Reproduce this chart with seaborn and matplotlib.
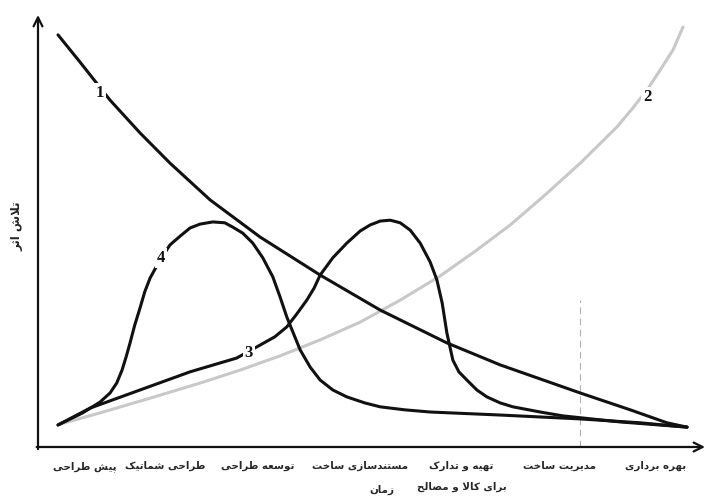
import numpy as np
import pandas as pd
import matplotlib
matplotlib.use("Agg")
import matplotlib.pyplot as plt
import seaborn as sns

# ---------------- data ----------------
curve1_x = [3.0, 6.3, 10.8, 15.3, 19.8, 25.8, 33.3, 42.3, 51.3, 61.3, 69.3, 81.3, 88.8, 94.3, 97.3]
curve1_y = [95.4, 89.1, 80.3, 72.7, 65.7, 57.2, 48.6, 39.8, 31.7, 24.1, 19.0, 12.5, 8.6, 5.6, 4.6]

curve2_x = [3.3, 9.3, 16.8, 24.3, 30.3, 36.3, 42.3, 48.3, 54.3, 60.3, 65.8, 70.8, 75.7, 81.3,
            86.8, 89.2, 91.5, 93.3, 95.2, 96.7]
curve2_y = [5.3, 7.9, 11.3, 14.8, 17.8, 21.1, 24.8, 28.9, 34.0, 39.6, 45.6, 51.4, 57.9, 65.7,
            74.1, 78.5, 83.1, 87.3, 91.9, 97.2]

curve3_x = [3.0, 7.8, 15.3, 22.8, 29.8, 33.3, 35.5, 37.3, 38.8, 40.3, 41.4, 42.3, 44.2, 46.3,
            48.3, 49.8, 51.3, 52.8, 54.3, 55.8, 57.3, 58.8, 59.8, 60.6, 61.3, 61.8, 62.2, 63.1,
            64.3, 65.8, 67.3, 69.3, 71.2, 75.3, 78.7, 87.3, 97.3]
curve3_y = [5.1, 9.0, 13.2, 17.4, 20.6, 23.6, 25.5, 27.8, 30.8, 34.0, 36.8, 39.8, 43.8, 47.2,
            50.0, 51.4, 52.3, 52.5, 51.9, 50.2, 47.2, 42.8, 38.7, 33.3, 26.4, 22.9, 20.1, 17.4,
            15.5, 13.2, 11.6, 10.2, 9.3, 8.1, 7.2, 5.8, 4.6]

curve4_x = [3.0, 6.7, 9.3, 10.8, 11.8, 12.6, 13.2, 13.8, 14.5, 15.3, 16.0, 16.8, 18.3, 19.8,
            21.3, 22.8, 24.3, 26.2, 28.0, 29.2, 30.7, 32.2, 33.7, 35.2, 36.3, 37.3, 38.4, 39.3,
            40.8, 42.3, 44.2, 46.3, 49.0, 51.3, 55.0, 58.8, 69.3, 81.3, 90.3, 97.3]
curve4_y = [5.1, 7.9, 10.4, 12.5, 14.8, 17.8, 20.8, 24.1, 28.2, 32.2, 35.9, 39.1, 43.3, 46.8,
            48.8, 50.7, 51.6, 52.1, 51.9, 50.9, 49.5, 47.2, 43.8, 39.4, 34.7, 30.1, 25.9, 22.5,
            18.5, 15.5, 13.2, 11.6, 10.2, 9.3, 8.6, 8.1, 7.4, 6.5, 5.6, 4.6]

curve_labels = ["1", "2", "3", "4"]
label_pos_x = [9.3, 91.3, 31.6, 18.4]
label_pos_y = [82.0, 81.0, 21.8, 43.8]

stage_names = ["پیش طراحی", "طراحی شماتیک", "توسعه طراحی", "مستندسازی ساخت",
               "تهیه و تدارک\nبرای کالا و مصالح", "مدیریت ساخت", "بهره برداری"]
stage_pos = [7.0, 19.0, 33.0, 48.3, 63.5, 78.2, 92.6]
x_title = "زمان"
y_title = "تلاش اثر"
ref_line_x = 81.3
ref_line_top = 34.0

# ---------------- minimal Persian shaping (presentation forms + RTL) ----------------
FORMS = {
    'ا': (0xFE8D, 0xFE8E), 'آ': (0xFE81, 0xFE82), 'د': (0xFEA9, 0xFEAA), 'ذ': (0xFEAB, 0xFEAC),
    'ر': (0xFEAD, 0xFEAE), 'ز': (0xFEAF, 0xFEB0), 'ژ': (0xFB8A, 0xFB8B), 'و': (0xFEED, 0xFEEE),
    'ب': (0xFE8F, 0xFE90, 0xFE91, 0xFE92), 'پ': (0xFB56, 0xFB57, 0xFB58, 0xFB59),
    'ت': (0xFE95, 0xFE96, 0xFE97, 0xFE98), 'ث': (0xFE99, 0xFE9A, 0xFE9B, 0xFE9C),
    'ج': (0xFE9D, 0xFE9E, 0xFE9F, 0xFEA0), 'چ': (0xFB7A, 0xFB7B, 0xFB7C, 0xFB7D),
    'ح': (0xFEA1, 0xFEA2, 0xFEA3, 0xFEA4), 'خ': (0xFEA5, 0xFEA6, 0xFEA7, 0xFEA8),
    'س': (0xFEB1, 0xFEB2, 0xFEB3, 0xFEB4), 'ش': (0xFEB5, 0xFEB6, 0xFEB7, 0xFEB8),
    'ص': (0xFEB9, 0xFEBA, 0xFEBB, 0xFEBC), 'ض': (0xFEBD, 0xFEBE, 0xFEBF, 0xFEC0),
    'ط': (0xFEC1, 0xFEC2, 0xFEC3, 0xFEC4), 'ظ': (0xFEC5, 0xFEC6, 0xFEC7, 0xFEC8),
    'ع': (0xFEC9, 0xFECA, 0xFECB, 0xFECC), 'غ': (0xFECD, 0xFECE, 0xFECF, 0xFED0),
    'ف': (0xFED1, 0xFED2, 0xFED3, 0xFED4), 'ق': (0xFED5, 0xFED6, 0xFED7, 0xFED8),
    'ک': (0xFB8E, 0xFB8F, 0xFB90, 0xFB91), 'گ': (0xFB92, 0xFB93, 0xFB94, 0xFB95),
    'ل': (0xFEDD, 0xFEDE, 0xFEDF, 0xFEE0), 'م': (0xFEE1, 0xFEE2, 0xFEE3, 0xFEE4),
    'ن': (0xFEE5, 0xFEE6, 0xFEE7, 0xFEE8), 'ه': (0xFEE9, 0xFEEA, 0xFEEB, 0xFEEC),
    'ی': (0xFBFC, 0xFBFD, 0xFBFE, 0xFBFF),
}


def _dual(c):
    return c in FORMS and len(FORMS[c]) == 4


def shape_line(text):
    out = []
    n = len(text)
    i = 0
    while i < n:
        c = text[i]
        if c not in FORMS:
            out.append(c)
            i += 1
            continue
        prev = text[i - 1] if i > 0 else ''
        joins_prev = _dual(prev)
        if c == 'ل' and i + 1 < n and text[i + 1] == 'ا':
            out.append(chr(0xFEFC if joins_prev else 0xFEFB))
            i += 2
            continue
        nxt = text[i + 1] if i + 1 < n else ''
        joins_next = _dual(c) and nxt in FORMS
        f = FORMS[c]
        if joins_prev and joins_next:
            g = f[3]
        elif joins_prev:
            g = f[1]
        elif joins_next:
            g = f[2]
        else:
            g = f[0]
        out.append(chr(g))
        i += 1
    return ''.join(reversed(out))


def fa(text):
    return '\n'.join(shape_line(t) for t in text.split('\n'))


# ---------------- figure ----------------
sns.set_theme(style="white")
plt.rcParams['font.family'] = ['DejaVu Sans']

fig = plt.figure(figsize=(7.07, 4.97), dpi=100)
ax = fig.add_axes([38 / 707, 50 / 497, 667 / 707, 432 / 497])
ax.set_xlim(0, 100)
ax.set_ylim(0, 100)
for s in ax.spines.values():
    s.set_visible(False)

# curve 2 (gray, behind)
sns.lineplot(x=curve2_x, y=curve2_y, ax=ax, color="#c8c8c8", linewidth=2.2,
             estimator=None, sort=False, zorder=2, solid_joinstyle="round")
# black curves
for cx, cy in [(curve1_x, curve1_y), (curve3_x, curve3_y), (curve4_x, curve4_y)]:
    sns.lineplot(x=cx, y=cy, ax=ax, color="#111111", linewidth=2.2,
                 estimator=None, sort=False, zorder=3, solid_joinstyle="round")

ax.plot([ref_line_x, ref_line_x], [0, ref_line_top], color="#b0b0b0",
        linestyle=(0, (6, 4)), linewidth=0.8, zorder=1)

for lab, lx, ly in zip(curve_labels, label_pos_x, label_pos_y):
    ax.text(lx, ly, lab, ha="center", va="center", fontsize=12, fontweight="bold",
            family=["Liberation Serif"], color="#111111", zorder=5,
            bbox=dict(boxstyle="square,pad=0.12", fc="white", ec="none"))

# axes arrows
arrow = dict(arrowstyle="->", lw=1.6, color="#111111", mutation_scale=16, shrinkA=0, shrinkB=0)
ax.annotate("", xy=(0, 1.0), xytext=(0, -0.005), xycoords="axes fraction", arrowprops=arrow)
ax.annotate("", xy=(1.0, 0), xytext=(-0.002, 0), xycoords="axes fraction", arrowprops=arrow)

ax.set_xticks(stage_pos)
ax.set_xticklabels([fa(s) for s in stage_names], fontsize=7.4, fontweight="bold",
                   linespacing=2.3)
ax.tick_params(axis="x", length=0, pad=10)
ax.set_yticks([])

ax.set_xlabel(fa(x_title), fontsize=7.4, fontweight="bold")
ax.xaxis.set_label_coords((382 - 38) / 667, -0.088)
ax.set_ylabel(fa(y_title), fontsize=8.5, fontweight="bold")
ax.yaxis.set_label_coords(-0.022, 0.51)

fig.savefig("out.png", dpi=100, facecolor="white")
